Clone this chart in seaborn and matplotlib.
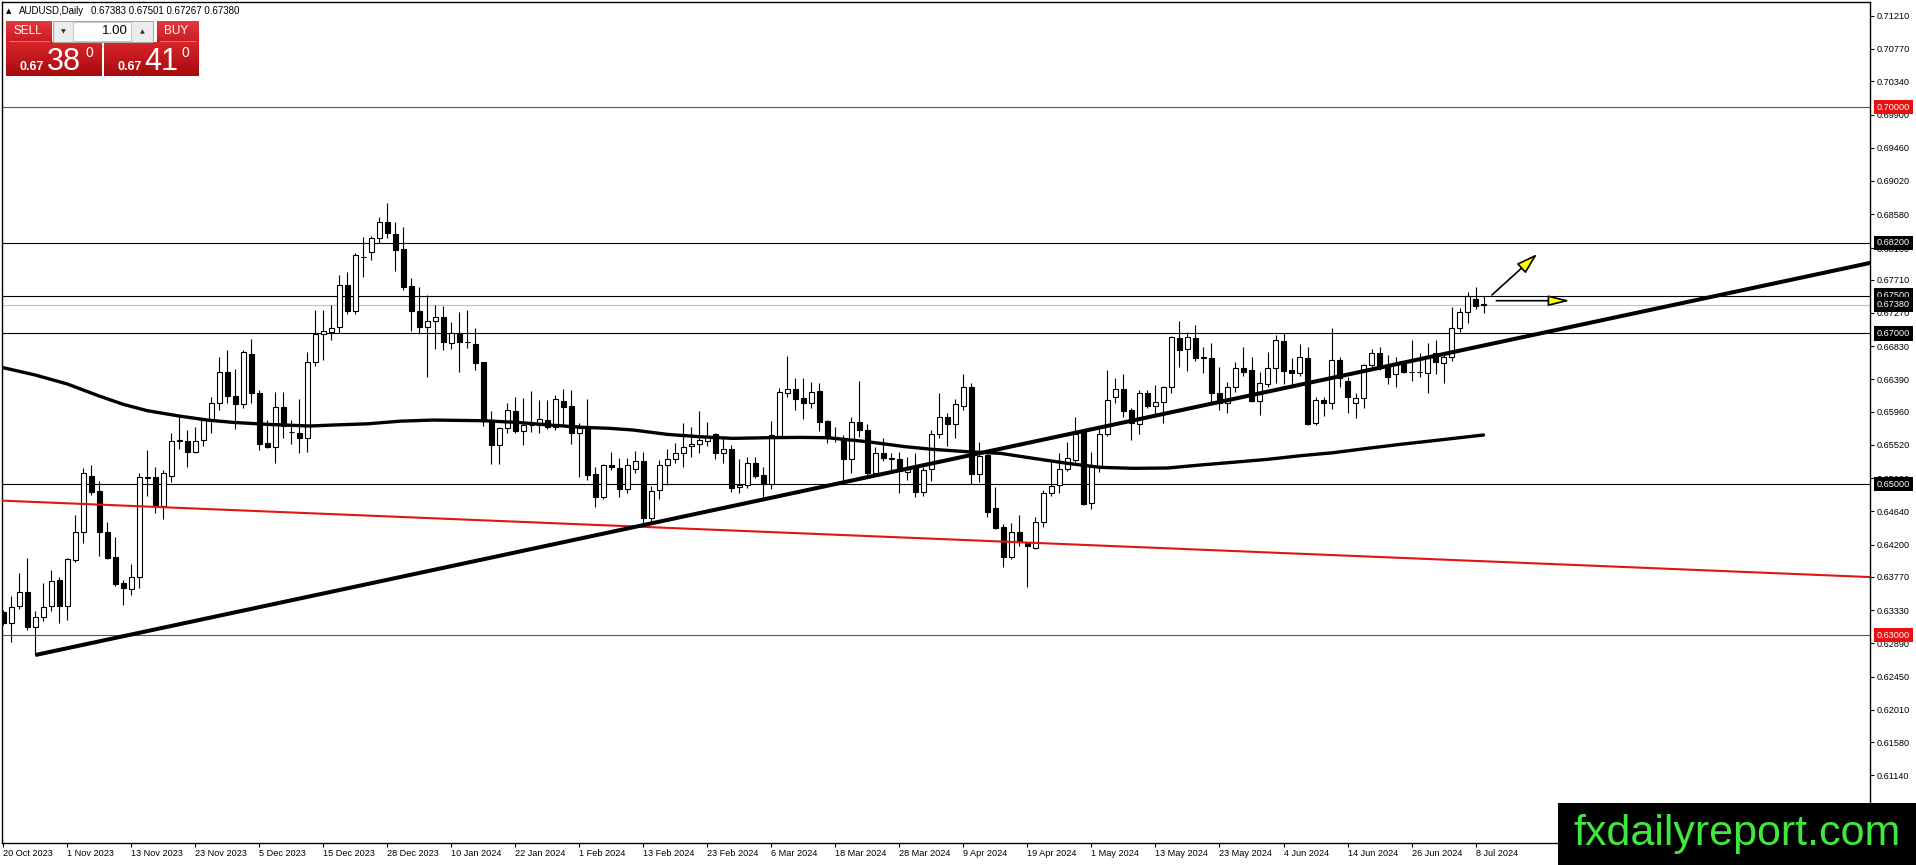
import numpy as np
import matplotlib
matplotlib.use("Agg")
import matplotlib.pyplot as plt
import seaborn as sns
from matplotlib.patches import Rectangle, FancyArrowPatch
from matplotlib.colors import LinearSegmentedColormap

sns.set_style("white")
plt.rcParams['font.family'] = ['Liberation Sans', 'DejaVu Sans']

# AUDUSD daily candles, one per trading day starting 20 Oct 2023
open_ = [0.63309, 0.63155, 0.63384, 0.63566, 0.63102, 0.63234, 0.63384, 0.63729, 0.63389, 0.63994,
         0.64361, 0.65108, 0.64909, 0.64361, 0.64030, 0.63685, 0.63605, 0.63773, 0.65099, 0.65090,
         0.64710, 0.65108, 0.65572, 0.65576, 0.65430, 0.65585, 0.65850, 0.66071, 0.66491, 0.66173,
         0.66058, 0.66721, 0.66204, 0.65541, 0.65497, 0.66018, 0.65687, 0.65673, 0.65607, 0.66624,
         0.66990, 0.67012, 0.67079, 0.67636, 0.67300, 0.68016, 0.68073, 0.68259, 0.68471, 0.68316,
         0.68113, 0.67627, 0.67300, 0.67079, 0.67167, 0.67211, 0.66867, 0.66999, 0.66880, 0.66853,
         0.66615, 0.65841, 0.65519, 0.65740, 0.65970, 0.65709, 0.65784, 0.65784, 0.65850, 0.65762,
         0.66107, 0.66036, 0.65673, 0.65753, 0.65130, 0.64834, 0.65249, 0.65210, 0.64931, 0.65196,
         0.65311, 0.64547, 0.64922, 0.65249, 0.65329, 0.65408, 0.65506, 0.65532, 0.65576, 0.65665,
         0.65408, 0.65461, 0.64958, 0.64984, 0.65276, 0.65121, 0.65002, 0.65638, 0.66204, 0.66257,
         0.66137, 0.66071, 0.66235, 0.65837, 0.65620, 0.65594, 0.65329, 0.65828, 0.65718, 0.65152,
         0.65408, 0.65342, 0.65329, 0.65157, 0.65210, 0.64900, 0.65196, 0.65665, 0.65894, 0.65793,
         0.66040, 0.66292, 0.65130, 0.65386, 0.64679, 0.64427, 0.64030, 0.64361, 0.64224, 0.64149,
         0.64502, 0.64878, 0.64989, 0.65196, 0.65320, 0.65696, 0.64746, 0.65232, 0.65665, 0.66151,
         0.66261, 0.65983, 0.65797, 0.66204, 0.66040, 0.66084, 0.66283, 0.66933, 0.66787, 0.66933,
         0.66677, 0.66677, 0.66204, 0.66071, 0.66283, 0.66535, 0.66513, 0.66107, 0.66328, 0.66535,
         0.66898, 0.66513, 0.66478, 0.66677, 0.65806, 0.66115, 0.66071, 0.66646, 0.66372, 0.66071,
         0.66137, 0.66579, 0.66734, 0.66566, 0.66460, 0.66588, 0.66482, 0.66482, 0.66469, 0.66734,
         0.66601, 0.66681, 0.67065, 0.67278, 0.67450, 0.67383]
high_ = [0.63331, 0.63517, 0.63818, 0.64016, 0.63323, 0.63694, 0.63862, 0.63773, 0.64016, 0.64591,
         0.65218, 0.65249, 0.65042, 0.64502, 0.64304, 0.63729, 0.63941, 0.65143, 0.65453, 0.65232,
         0.65187, 0.65682, 0.65917, 0.65718, 0.65762, 0.65872, 0.66160, 0.66690, 0.66778, 0.66522,
         0.66778, 0.66924, 0.66248, 0.65850, 0.66226, 0.66222, 0.65850, 0.66124, 0.66747, 0.67309,
         0.67309, 0.67375, 0.67773, 0.67812, 0.68069, 0.68281, 0.68290, 0.68537, 0.68723, 0.68480,
         0.68404, 0.67728, 0.67609, 0.67503, 0.67375, 0.67362, 0.67145, 0.67278, 0.67309, 0.67074,
         0.66624, 0.65974, 0.65762, 0.66071, 0.66151, 0.66146, 0.66235, 0.66115, 0.66115, 0.66182,
         0.66257, 0.66248, 0.65806, 0.66129, 0.65232, 0.65267, 0.65422, 0.65342, 0.65342, 0.65444,
         0.65430, 0.64975, 0.65320, 0.65461, 0.65541, 0.65806, 0.65753, 0.65970, 0.65828, 0.65682,
         0.65607, 0.65514, 0.65333, 0.65364, 0.65364, 0.65223, 0.65837, 0.66270, 0.66699, 0.66403,
         0.66403, 0.66358, 0.66345, 0.65845, 0.65753, 0.65651, 0.65886, 0.66372, 0.65797, 0.65488,
         0.65607, 0.65408, 0.65430, 0.65364, 0.65408, 0.65232, 0.65718, 0.66213, 0.65947, 0.66129,
         0.66456, 0.66336, 0.65554, 0.65399, 0.64958, 0.64472, 0.64480, 0.64591, 0.64237, 0.64569,
         0.64922, 0.65298, 0.65408, 0.65563, 0.65894, 0.65718, 0.65422, 0.65727, 0.66513, 0.66403,
         0.66460, 0.66005, 0.66248, 0.66248, 0.66314, 0.66301, 0.66964, 0.67163, 0.67021, 0.67110,
         0.66822, 0.66867, 0.66557, 0.66358, 0.66624, 0.66822, 0.66690, 0.66491, 0.66756, 0.66977,
         0.66999, 0.66668, 0.66858, 0.66822, 0.66151, 0.66160, 0.67065, 0.66690, 0.66425, 0.66204,
         0.66593, 0.66792, 0.66814, 0.66712, 0.66690, 0.66632, 0.66911, 0.66743, 0.66867, 0.66911,
         0.66756, 0.67353, 0.67331, 0.67543, 0.67618, 0.67501]
low_ = [0.63133, 0.62912, 0.63340, 0.63066, 0.62735, 0.63190, 0.63323, 0.63164, 0.63199, 0.63972,
        0.64215, 0.64856, 0.64052, 0.64003, 0.63654, 0.63398, 0.63530, 0.63628, 0.64847, 0.64622,
        0.64538, 0.65033, 0.65461, 0.65232, 0.65408, 0.65506, 0.65682, 0.65983, 0.66071, 0.65731,
        0.66014, 0.66071, 0.65453, 0.65483, 0.65276, 0.65607, 0.65528, 0.65417, 0.65430, 0.66571,
        0.66646, 0.66911, 0.66999, 0.67256, 0.67256, 0.67742, 0.67971, 0.68201, 0.68259, 0.67830,
        0.67574, 0.67035, 0.66986, 0.66425, 0.66792, 0.66778, 0.66792, 0.66491, 0.66800, 0.66513,
        0.65771, 0.65267, 0.65267, 0.65673, 0.65673, 0.65519, 0.65696, 0.65673, 0.65727, 0.65718,
        0.65784, 0.65532, 0.65099, 0.65055, 0.64701, 0.64799, 0.65187, 0.64825, 0.64887, 0.65143,
        0.64458, 0.64480, 0.64799, 0.64989, 0.65285, 0.65232, 0.65355, 0.65417, 0.65506, 0.65329,
        0.65285, 0.64900, 0.64887, 0.64944, 0.65077, 0.64799, 0.64931, 0.65607, 0.66151, 0.65983,
        0.65864, 0.66014, 0.65709, 0.65541, 0.65563, 0.65055, 0.65143, 0.65620, 0.65121, 0.65121,
        0.65311, 0.65179, 0.64878, 0.65055, 0.64825, 0.64843, 0.65042, 0.65616, 0.65510, 0.65616,
        0.65983, 0.65002, 0.65033, 0.64569, 0.64401, 0.63906, 0.64003, 0.64184, 0.63641, 0.64136,
        0.64427, 0.64843, 0.64878, 0.65179, 0.65298, 0.64723, 0.64670, 0.65165, 0.65643, 0.66071,
        0.65886, 0.65585, 0.65665, 0.66005, 0.65886, 0.65806, 0.66213, 0.66548, 0.66504, 0.66637,
        0.66478, 0.66080, 0.65983, 0.65939, 0.66226, 0.66434, 0.66093, 0.65917, 0.66283, 0.66345,
        0.66328, 0.66301, 0.66434, 0.65784, 0.65784, 0.65903, 0.65992, 0.66283, 0.65939, 0.65872,
        0.66014, 0.66535, 0.66513, 0.66328, 0.66283, 0.66469, 0.66372, 0.66416, 0.66213, 0.66460,
        0.66345, 0.66637, 0.67021, 0.67132, 0.67326, 0.67267]
close_ = [0.63155, 0.63376, 0.63566, 0.63102, 0.63234, 0.63376, 0.63716, 0.63389, 0.64008, 0.64361,
          0.65152, 0.64900, 0.64370, 0.64025, 0.63672, 0.63619, 0.63773, 0.65090, 0.65077, 0.64710,
          0.65152, 0.65576, 0.65581, 0.65430, 0.65576, 0.65850, 0.66071, 0.66491, 0.66173, 0.66058,
          0.66756, 0.66204, 0.65528, 0.65497, 0.66027, 0.65771, 0.65690, 0.65607, 0.66624, 0.66990,
          0.67026, 0.67065, 0.67636, 0.67300, 0.68038, 0.68012, 0.68259, 0.68471, 0.68325, 0.68104,
          0.67618, 0.67300, 0.67079, 0.67167, 0.67211, 0.66880, 0.67008, 0.66880, 0.66884, 0.66610,
          0.65841, 0.65519, 0.65749, 0.65983, 0.65709, 0.65784, 0.65788, 0.65859, 0.65762, 0.66124,
          0.66027, 0.65682, 0.65749, 0.65121, 0.64834, 0.65249, 0.65223, 0.64931, 0.65249, 0.65311,
          0.64547, 0.64913, 0.65258, 0.65329, 0.65408, 0.65497, 0.65528, 0.65585, 0.65620, 0.65408,
          0.65466, 0.64953, 0.64984, 0.65276, 0.65112, 0.65002, 0.65651, 0.66217, 0.66257, 0.66124,
          0.66071, 0.66226, 0.65828, 0.65616, 0.65594, 0.65329, 0.65828, 0.65718, 0.65152, 0.65408,
          0.65342, 0.65338, 0.65174, 0.65196, 0.64900, 0.65187, 0.65665, 0.65886, 0.65797, 0.66058,
          0.66292, 0.65130, 0.65377, 0.64635, 0.64414, 0.64030, 0.64361, 0.64237, 0.64180, 0.64502,
          0.64878, 0.64980, 0.65196, 0.65342, 0.65665, 0.64732, 0.65232, 0.65665, 0.66115, 0.66261,
          0.65974, 0.65806, 0.66204, 0.66040, 0.66084, 0.66283, 0.66946, 0.66778, 0.66946, 0.66677,
          0.66680, 0.66204, 0.66071, 0.66283, 0.66535, 0.66491, 0.66107, 0.66336, 0.66535, 0.66911,
          0.66504, 0.66478, 0.66681, 0.65797, 0.66115, 0.66071, 0.66646, 0.66403, 0.66160, 0.66137,
          0.66579, 0.66734, 0.66566, 0.66416, 0.66579, 0.66482, 0.66485, 0.66486, 0.66703, 0.66615,
          0.66681, 0.67065, 0.67278, 0.67499, 0.67366, 0.67380]

date_labels = ["20 Oct 2023", "1 Nov 2023", "13 Nov 2023", "23 Nov 2023", "5 Dec 2023",
               "15 Dec 2023", "28 Dec 2023", "10 Jan 2024", "22 Jan 2024", "1 Feb 2024",
               "13 Feb 2024", "23 Feb 2024", "6 Mar 2024", "18 Mar 2024", "28 Mar 2024",
               "9 Apr 2024", "19 Apr 2024", "1 May 2024", "13 May 2024", "23 May 2024",
               "4 Jun 2024", "14 Jun 2024", "26 Jun 2024", "8 Jul 2024"]

# moving average (bar index, price)
ma_x = [0, 4, 8, 12, 15, 18, 22, 25.5, 28.7, 33, 38.3, 41.2, 45.5, 49.6, 53.7, 60, 64.2, 68.3,
        72.5, 75.8, 78.7, 83, 87, 91.2, 95.5, 99.6, 103, 108, 112.7, 116.2, 120.5, 124.6,
        128.7, 133, 137.1, 141.2, 145.5, 149.6, 153.7, 158, 162.1, 166.2, 170.5, 174.6, 178.7, 185]
ma_y = [0.66544, 0.66447, 0.66328, 0.66168, 0.66058, 0.65974, 0.65903, 0.65850, 0.65819, 0.65793,
        0.65771, 0.65784, 0.65800, 0.65835, 0.65850, 0.65841, 0.65819, 0.65784, 0.65753, 0.65740,
        0.65718, 0.65660, 0.65629, 0.65607, 0.65616, 0.65620, 0.65616, 0.65563, 0.65497, 0.65461,
        0.65430, 0.65409, 0.65343, 0.65276, 0.65223, 0.65210, 0.65214, 0.65254, 0.65290, 0.65329,
        0.65377, 0.65417, 0.65475, 0.65528, 0.65576, 0.65652]

# drawn objects
trend_x = [4, 233.4]
trend_y = [0.62735, 0.67935]
red_trend_x = [0, 233.4]
red_trend_y = [0.64781, 0.63768]
black_levels = [0.682, 0.675, 0.670, 0.650]
red_levels = [0.700, 0.630]
bid = 0.67380
price_ticks = [0.71210, 0.70770, 0.70340, 0.69900, 0.69460, 0.69020, 0.68580, 0.68130,
               0.67710, 0.67270, 0.66830, 0.66390, 0.65960, 0.65520, 0.65080, 0.64640,
               0.64200, 0.63770, 0.63330, 0.62890, 0.62450, 0.62010, 0.61580, 0.61140, 0.60700]
arrow_up = [(186.05, 0.67508), (191.7, 0.68051)]
arrow_flat = [(186.6, 0.67432), (195.8, 0.67432)]

W, H = 1916, 865
fig = plt.figure(figsize=(W / 100, H / 100), dpi=100)
ax = fig.add_axes([1.5 / W, 22 / H, 1868.5 / W, 841 / H])

bars = np.arange(len(open_))
o = np.array(open_)
c = np.array(close_)
ax.hlines(black_levels, -5, 240, colors='black', lw=0.8, zorder=1)
ax.hlines(red_levels, -5, 240, colors='#e31b1b', lw=0.8, zorder=1)
ax.axhline(bid, color='#c0c0c0', lw=0.8, zorder=1)

ax.vlines(bars, low_, high_, color='black', lw=0.8, zorder=3)
body_low = np.minimum(o, c)
body_h = np.maximum(np.abs(c - o), 0.00003)
up = c >= o
ax.bar(bars[up], body_h[up], bottom=body_low[up], width=0.62, color='white',
       edgecolor='black', linewidth=0.8, zorder=4)
ax.bar(bars[~up], body_h[~up], bottom=body_low[~up], width=0.62, color='black',
       edgecolor='black', linewidth=0.8, zorder=4)

sns.lineplot(x=ma_x, y=ma_y, ax=ax, color='black', linewidth=2.4, zorder=5)
ax.axline((red_trend_x[0], red_trend_y[0]), (red_trend_x[1], red_trend_y[1]),
          color='#e01515', lw=1.5, zorder=5)
ax.plot(trend_x, trend_y, color='black', lw=2.9, zorder=6, solid_capstyle='butt')

for (p0, p1), hl, hw in [(arrow_up, 1.3, 0.4), (arrow_flat, 1.3, 0.32)]:
    ax.add_patch(FancyArrowPatch(p0, p1, arrowstyle=f'-|>,head_length={hl},head_width={hw}',
                                 mutation_scale=10, facecolor='#ffff00', edgecolor='black',
                                 lw=1.2, zorder=7, shrinkA=0, shrinkB=0))

ax.set_xlim(-0.225, 233.3)
ax.set_ylim(0.60243, 0.71392)
ax.set_xlabel('')
ax.set_ylabel('')
ax.grid(False)
for s in ax.spines.values():
    s.set_color('black')
    s.set_linewidth(1)

ax.set_yticks(price_ticks)
ax.set_yticklabels([f"{v:.5f}" for v in price_ticks])
ax.tick_params(axis='y', left=False, right=True, labelleft=False, labelright=True,
               direction='out', length=3, width=0.8, pad=2, labelsize=6.6, colors='black')
ax.set_xticks(bars[::8])
ax.set_xticklabels(date_labels, ha='left')
ax.tick_params(axis='x', bottom=True, direction='out', length=3, width=0.8, pad=1.5,
               labelsize=6.6, colors='black')

for lvl in black_levels + red_levels + [bid]:
    fc = '#e81010' if lvl in red_levels else 'black'
    ax.annotate(f"{lvl:.5f}", xy=(1, lvl), xycoords=('axes fraction', 'data'),
                xytext=(5.0, 0), textcoords='offset points', ha='left', va='center',
                fontsize=6.6, color='white', annotation_clip=False, zorder=20,
                bbox=dict(boxstyle='square,pad=0.3', fc=fc, ec='none'))

# overlay in pixel space: header, trade panel, watermark
ov = fig.add_axes([0, 0, 1, 1], zorder=10)
ov.patch.set_alpha(0)


def grad_box(x0, y0, x1, y1, c_top, c_bot):
    cm = LinearSegmentedColormap.from_list('g', [c_top, c_bot])
    ov.imshow(np.linspace(0, 1, 64).reshape(-1, 1), extent=(x0, x1, y1, y0), cmap=cm,
              aspect='auto', zorder=1, interpolation='bilinear')


header_vals = " ".join(f"{v:.5f}" for v in [open_[-1], high_[-1], low_[-1], close_[-1]])
ov.text(6, 11, "\u25b2", fontsize=5, va='center', ha='left', color='black',
        family=['DejaVu Sans'])
ov.text(19, 11, "AUDUSD,Daily", fontsize=7, va='center', ha='left', color='black')
ov.text(91, 11, header_vals, fontsize=7, va='center', ha='left', color='black')

grad_box(6, 21, 52, 42, '#e3383d', '#c81c22')
grad_box(157, 21, 199, 42, '#e3383d', '#c81c22')
grad_box(6, 42, 102, 76, '#d8242a', '#a60a0e')
grad_box(104, 42, 199, 76, '#d8242a', '#a60a0e')
ov.add_patch(Rectangle((53, 21), 100, 21, fc='#ececec', ec='#a8a8a8', lw=0.8, zorder=2))
ov.add_patch(Rectangle((73, 22), 58, 19, fc='white', ec='#c8c8c8', lw=0.8, zorder=3))
ov.text(63, 31.5, "\u25bc", fontsize=4.5, ha='center', va='center', color='#333333',
        family=['DejaVu Sans'], zorder=4)
ov.text(142, 31.5, "\u25b2", fontsize=4.5, ha='center', va='center', color='#333333',
        family=['DejaVu Sans'], zorder=4)
ov.text(128, 31, "1.00", fontsize=9.5, ha='right', va='center', color='black', zorder=4)
ov.text(28, 31.5, "SELL", fontsize=8.5, ha='center', va='center', color='white', zorder=4)
ov.text(176, 31.5, "BUY", fontsize=8.5, ha='center', va='center', color='white', zorder=4)
ov.plot([9, 49], [41, 41], color='#f08080', lw=0.6, zorder=4)
ov.plot([160, 196], [41, 41], color='#f08080', lw=0.6, zorder=4)
for x_small, x_big, x_sup, big in [(20, 47, 86, "38"), (118, 144, 182, "41")]:
    ov.text(x_small, 70, "0.67", fontsize=9, fontweight='bold', color='white',
            va='baseline', ha='left', zorder=4)
    ov.text(x_big, 70, big, fontsize=22, color='white', va='baseline', ha='left', zorder=4)
    ov.text(x_sup, 57, "0", fontsize=10, color='white', va='baseline', ha='left', zorder=4)

ov.add_patch(Rectangle((1558, 803), W - 1558, H - 803, fc='black', ec='none', zorder=5))
ov.text(1737, 845, "fxdailyreport.com", fontsize=31, color='#3ee83e', ha='center',
        va='baseline', zorder=6)

ov.set_xlim(0, W)
ov.set_ylim(H, 0)
ov.axis('off')

fig.savefig("out.png", dpi=100, facecolor='white')
